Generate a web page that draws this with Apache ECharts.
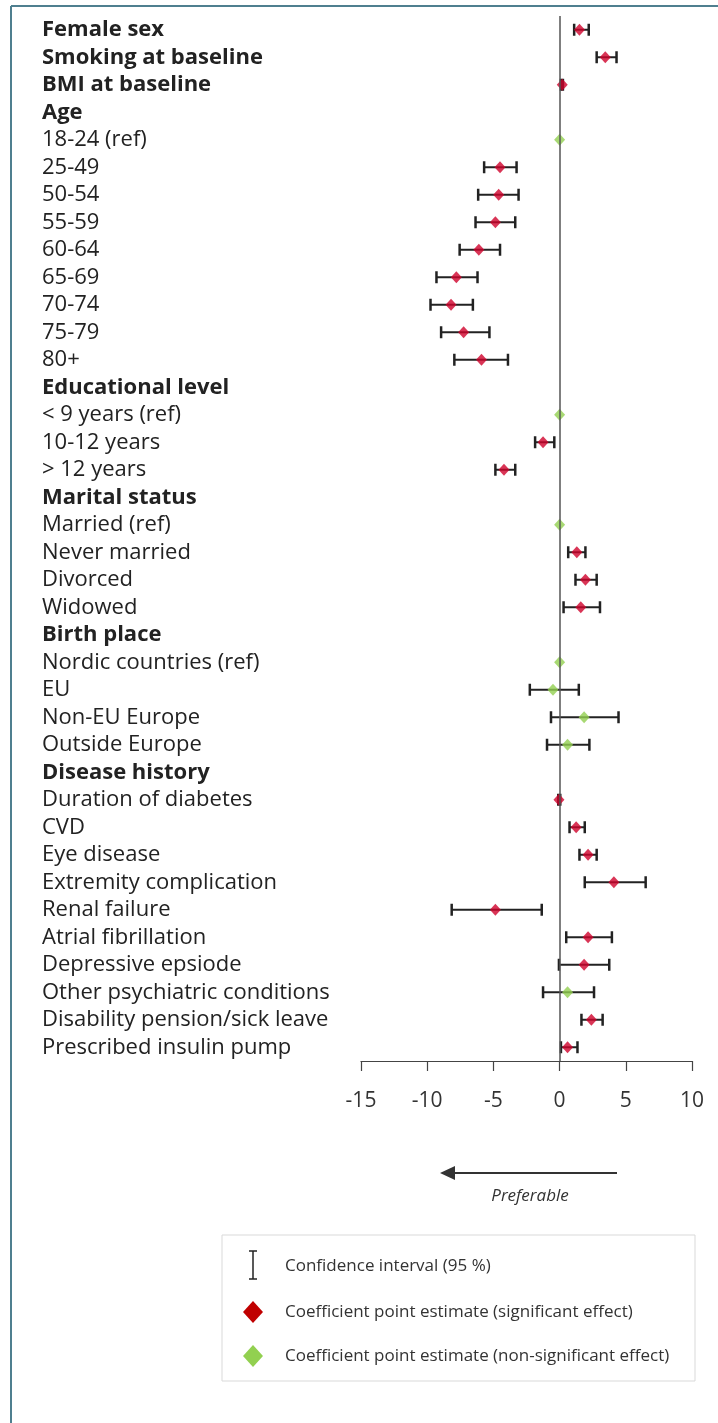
<!DOCTYPE html>
<html>
<head>
<meta charset="utf-8">
<script src="https://cdn.jsdelivr.net/npm/echarts@6/dist/echarts.min.js"></script>
<style>
  html, body { margin: 0; padding: 0; background: #fff; }
  #chart { width: 718px; height: 1423px; }
</style>
</head>
<body>
<div id="chart"></div>
<script>
// --- Data ---
const rowLabels = [
  'Female sex', 'Smoking at baseline', 'BMI at baseline', 'Age',
  '18-24 (ref)', '25-49', '50-54', '55-59', '60-64', '65-69', '70-74', '75-79', '80+',
  'Educational level', '< 9 years (ref)', '10-12 years', '> 12 years',
  'Marital status', 'Married (ref)', 'Never married', 'Divorced', 'Widowed',
  'Birth place', 'Nordic countries (ref)', 'EU', 'Non-EU Europe', 'Outside Europe',
  'Disease history', 'Duration of diabetes', 'CVD', 'Eye disease', 'Extremity complication',
  'Renal failure', 'Atrial fibrillation', 'Depressive epsiode', 'Other psychiatric conditions',
  'Disability pension/sick leave', 'Prescribed insulin pump'
];
const boldLabels = ['Female sex', 'Smoking at baseline', 'BMI at baseline', 'Age',
  'Educational level', 'Marital status', 'Birth place', 'Disease history'];

// point estimate (null = heading row)
const estimate = [
  1.5, 3.45, 0.2, null,
  0, -4.5, -4.6, -4.85, -6.1, -7.8, -8.2, -7.25, -5.9,
  null, 0, -1.25, -4.2,
  null, 0, 1.3, 1.95, 1.6,
  null, 0, -0.5, 1.85, 0.6,
  null, -0.05, 1.25, 2.15, 4.1,
  -4.85, 2.15, 1.85, 0.6,
  2.4, 0.6
];
// 95% CI bounds (null = no interval drawn)
const ciLow = [
  1.1, 2.8, 0.1, null,
  null, -5.7, -6.15, -6.35, -7.55, -9.3, -9.75, -8.95, -7.95,
  null, null, -1.85, -4.85,
  null, null, 0.65, 1.2, 0.3,
  null, null, -2.25, -0.65, -0.95,
  null, -0.1, 0.75, 1.5, 1.9,
  -8.15, 0.5, -0.05, -1.25,
  1.65, 0.1
];
const ciHigh = [
  2.2, 4.3, 0.25, null,
  null, -3.25, -3.1, -3.35, -4.5, -6.2, -6.55, -5.3, -3.9,
  null, null, -0.4, -3.35,
  null, null, 1.95, 2.8, 3.05,
  null, null, 1.45, 4.45, 2.25,
  null, 0.05, 1.9, 2.8, 6.5,
  -1.35, 3.95, 3.75, 2.6,
  3.25, 1.35
];
// significant effect flag
const significant = [
  true, true, true, false,
  false, true, true, true, true, true, true, true, true,
  false, false, true, true,
  false, false, true, true, true,
  false, false, false, false, false,
  false, true, true, true, true,
  true, true, true, false,
  true, true
];

const legendTexts = [
  'Confidence interval (95 %)',
  'Coefficient point estimate (significant effect)',
  'Coefficient point estimate (non-significant effect)'
];

const RED = '#d0022c';
const GREEN = '#92d050';
const FONT = '"Open Sans", sans-serif';

const sigPoints = [];
const nonSigPoints = [];
const ciData = [];
estimate.forEach((v, i) => {
  if (v === null) return;
  if (significant[i]) sigPoints.push([v, i]);
  else nonSigPoints.push([v, i]);
  if (ciLow[i] !== null) ciData.push([ciLow[i], i, ciHigh[i]]);
});

const chart = echarts.init(document.getElementById('chart'));

const option = {
  animation: false,
  grid: { left: 361, right: 26, top: 16, bottom: 362 },
  xAxis: {
    type: 'value',
    min: -15,
    max: 10,
    interval: 5,
    splitLine: { show: false },
    axisLine: { show: true, onZero: false, lineStyle: { color: '#444', width: 1.2 } },
    axisTick: { show: true, inside: false, length: 10, lineStyle: { color: '#444', width: 1.2 } },
    axisLabel: { color: '#333', fontSize: 21, fontFamily: FONT, margin: 30 }
  },
  yAxis: {
    type: 'category',
    data: rowLabels,
    inverse: true,
    axisLine: { show: false, onZero: false },
    axisTick: { show: false },
    axisLabel: {
      interval: 0,
      align: 'left',
      margin: 319,
      formatter: v => boldLabels.includes(v) ? '{b|' + v + '}' : '{n|' + v + '}',
      rich: {
        b: { fontSize: 22, fontWeight: 'bold', color: '#222', fontFamily: FONT },
        n: { fontSize: 22, color: '#222', fontFamily: FONT }
      }
    }
  },
  series: [
    {
      type: 'custom',
      name: 'ci',
      data: ciData,
      z: 2,
      renderItem: (params, api) => {
        const a = api.coord([api.value(0), api.value(1)]);
        const b = api.coord([api.value(2), api.value(1)]);
        const h = 6;
        return {
          type: 'group',
          children: [
            { type: 'line', shape: { x1: a[0], y1: a[1], x2: b[0], y2: b[1] }, style: { stroke: '#222', lineWidth: 2 } },
            { type: 'line', shape: { x1: a[0], y1: a[1] - h, x2: a[0], y2: a[1] + h }, style: { stroke: '#222', lineWidth: 2.5 } },
            { type: 'line', shape: { x1: b[0], y1: b[1] - h, x2: b[0], y2: b[1] + h }, style: { stroke: '#222', lineWidth: 2.5 } }
          ]
        };
      }
    },
    {
      type: 'scatter',
      name: 'significant',
      data: sigPoints,
      symbol: 'diamond',
      symbolSize: [11, 12],
      itemStyle: { color: RED },
      z: 3,
      markLine: {
        silent: true,
        symbol: 'none',
        label: { show: false },
        lineStyle: { color: '#555', width: 1.5, type: 'solid' },
        data: [{ xAxis: 0 }]
      }
    },
    {
      type: 'scatter',
      name: 'non-significant',
      data: nonSigPoints,
      symbol: 'diamond',
      symbolSize: [11, 12],
      itemStyle: { color: GREEN },
      z: 3
    }
  ],
  graphic: [
    // frame lines
    { type: 'line', shape: { x1: 11, y1: 6, x2: 718, y2: 6 }, style: { stroke: '#4f7f8f', lineWidth: 2 } },
    { type: 'line', shape: { x1: 11, y1: 6, x2: 11, y2: 1423 }, style: { stroke: '#4f7f8f', lineWidth: 2 } },
    // "Preferable" arrow
    { type: 'line', shape: { x1: 617, y1: 1173, x2: 452, y2: 1173 }, style: { stroke: '#333', lineWidth: 2 } },
    { type: 'polygon', shape: { points: [[440, 1173], [455, 1166], [455, 1180]] }, style: { fill: '#333' } },
    {
      type: 'text', x: 530, y: 1196,
      style: { text: 'Preferable', fontSize: 17, fontStyle: 'italic', fill: '#333', fontFamily: FONT, align: 'center', verticalAlign: 'middle' }
    },
    // legend box
    { type: 'rect', shape: { x: 222, y: 1235, width: 473, height: 146 }, style: { fill: '#fff', stroke: '#d9d9d9', lineWidth: 1 } },
    { type: 'line', shape: { x1: 253, y1: 1251, x2: 253, y2: 1279 }, style: { stroke: '#222', lineWidth: 1.5 } },
    { type: 'line', shape: { x1: 249, y1: 1251, x2: 257, y2: 1251 }, style: { stroke: '#222', lineWidth: 1.5 } },
    { type: 'line', shape: { x1: 249, y1: 1279, x2: 257, y2: 1279 }, style: { stroke: '#222', lineWidth: 1.5 } },
    { type: 'polygon', shape: { points: [[253, 1301], [263, 1312], [253, 1323], [243, 1312]] }, style: { fill: '#c00000' } },
    { type: 'polygon', shape: { points: [[253, 1345], [263, 1356], [253, 1367], [243, 1356]] }, style: { fill: GREEN } },
    { type: 'text', x: 285, y: 1266, style: { text: legendTexts[0], fontSize: 17, fill: '#333', fontFamily: FONT, verticalAlign: 'middle' } },
    { type: 'text', x: 285, y: 1312, style: { text: legendTexts[1], fontSize: 17, fill: '#333', fontFamily: FONT, verticalAlign: 'middle' } },
    { type: 'text', x: 285, y: 1356, style: { text: legendTexts[2], fontSize: 17, fill: '#333', fontFamily: FONT, verticalAlign: 'middle' } }
  ]
};

chart.setOption(option);
</script>
</body>
</html>
